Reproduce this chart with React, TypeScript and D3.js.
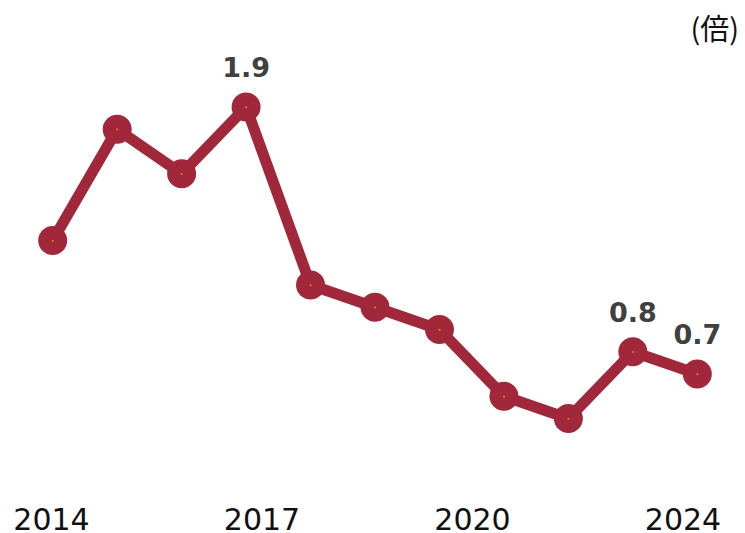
import React from "react";
import * as d3 from "d3";

const years = [2014, 2015, 2016, 2017, 2018, 2019, 2020, 2021, 2022, 2023, 2024];
const values = [1.3, 1.8, 1.6, 1.9, 1.1, 1.0, 0.9, 0.6, 0.5, 0.8, 0.7];
const labeledYears = [2017, 2023, 2024];
const tickLabels = ["2014", "2017", "2020", "2024"];
const unitLabel = "(倍)";

const W = 745;
const H = 533;
const LINE = "#a0283a";

export default function App() {
  const x = d3.scalePoint<number>().domain(years).range([52.7, 697.3]);
  const y = d3.scaleLinear().domain([0, 2]).range([529.75, 84.75]);
  const tickX = d3.scalePoint<string>().domain(tickLabels).range([51.5, 683]);
  const pts = years.map((yr, i) => ({ yr, v: values[i] }));
  const line = d3
    .line<{ yr: number; v: number }>()
    .x((d) => x(d.yr) as number)
    .y((d) => y(d.v));

  return (
    <svg
      width={W}
      height={H}
      viewBox={`0 0 ${W} ${H}`}
      style={{ position: "absolute", left: 0, top: 0, background: "#fff" }}
    >
      <rect x={0} y={0} width={W} height={H} fill="#fff" />
      <text
        x={739}
        y={40}
        textAnchor="end"
        fontFamily="'Noto Sans CJK JP', 'Noto Sans', sans-serif"
        fontSize={29}
        fill="#111"
      >
        {unitLabel}
      </text>
      <path
        d={line(pts) || ""}
        fill="none"
        stroke={LINE}
        strokeWidth={11}
        strokeLinejoin="round"
      />
      {pts.map((d) => (
        <g key={d.yr}>
          <circle cx={x(d.yr)} cy={y(d.v)} r={14.5} fill={LINE} />
          <rect
            x={(x(d.yr) as number) - 1}
            y={y(d.v) - 0.5}
            width={2}
            height={1.5}
            fill="#f08a00"
          />
        </g>
      ))}
      {pts
        .filter((d) => labeledYears.includes(d.yr))
        .map((d) => (
          <text
            key={"l" + d.yr}
            x={x(d.yr)}
            y={y(d.v) - 30}
            textAnchor="middle"
            fontFamily="'DejaVu Sans', Verdana, sans-serif"
            fontWeight="bold"
            fontSize={27}
            fill="#404040"
          >
            {d.v.toFixed(1)}
          </text>
        ))}
      {tickLabels.map((t) => (
        <text
          key={t}
          x={tickX(t)}
          y={530}
          textAnchor="middle"
          fontFamily="'DejaVu Sans', Verdana, sans-serif"
          fontSize={30}
          fill="#111"
        >
          {t}
        </text>
      ))}
    </svg>
  );
}
